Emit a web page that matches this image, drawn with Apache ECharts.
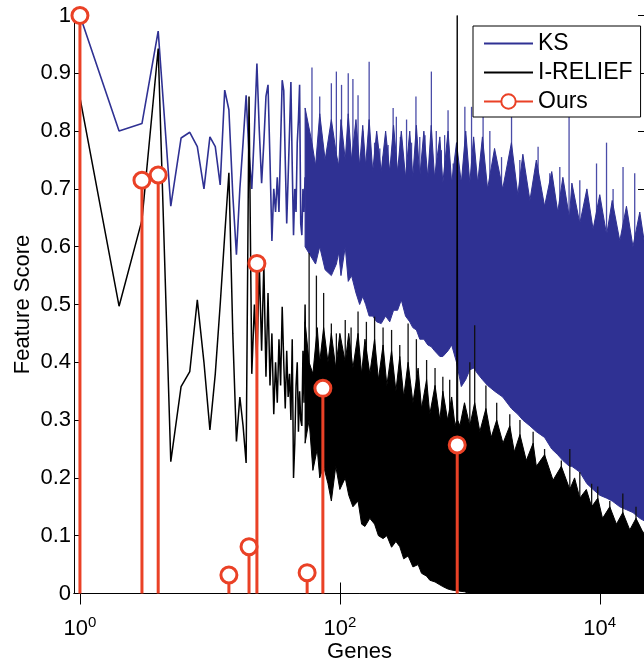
<!DOCTYPE html>
<html><head><meta charset="utf-8">
<script src="https://cdn.jsdelivr.net/npm/echarts@6/dist/echarts.min.js"></script>
<style>html,body{margin:0;padding:0;background:#fff}#c{width:644px;height:667px}</style>
</head><body><div id="c"></div>
<script>
// ---- data ----
// KS scores of the first 54 ranked genes (gene = position + 1)
const ksLeadScores = [1.0,0.80,0.813,0.973,0.67,0.788,0.798,0.773,0.70,0.79,
  0.773,0.707,0.871,0.837,0.69,0.586,0.70,0.78,0.862,0.76,
  0.70,0.80,0.917,0.80,0.71,0.78,0.86,0.88,0.75,0.61,
  0.70,0.66,0.72,0.66,0.78,0.888,0.87,0.75,0.64,0.72,
  0.80,0.885,0.74,0.62,0.70,0.66,0.78,0.82,0.88,0.64,
  0.62,0.70,0.66,0.72];
// I-RELIEF scores of the first 55 ranked genes
const irLeadScores = [0.858,0.497,0.646,0.943,0.228,0.358,0.384,0.508,0.40,0.283,
  0.38,0.50,0.62,0.728,0.45,0.263,0.34,0.29,0.226,0.86,
  0.38,0.50,0.40,0.57,0.42,0.57,0.375,0.52,0.36,0.45,
  0.31,0.40,0.33,0.44,0.36,0.496,0.40,0.32,0.42,0.34,
  0.38,0.30,0.44,0.20,0.26,0.36,0.40,0.28,0.35,0.30,
  0.29,0.42,0.33,0.50,0.30];
// dense part of KS: envelope (low / high) read at these genes
const ksBandGenes = [54,61,65,70,77,86,94,98,102,110,
  116,123,133,142,150,158,168,179,192,208,
  225,242,259,278,297,320,345,364,388,412,
  443,475,505,535,588,620,680,725,790,860,
  930,1000,1070,1150,1250,1370,1550,1790,2090,2340,
  2560,2900,3250,3760,4270,4750,5200,5840,6100,7020,
  7960,8880,10000,11290,12460,14260,16040,18000,20320,22283];
const ksBandLow = [0.60,0.58,0.57,0.60,0.56,0.55,0.57,0.59,0.55,0.60,
  0.54,0.55,0.52,0.50,0.514,0.50,0.48,0.48,0.47,0.467,
  0.48,0.47,0.49,0.49,0.508,0.48,0.47,0.46,0.456,0.44,
  0.44,0.43,0.427,0.42,0.41,0.41,0.42,0.43,0.40,0.358,
  0.37,0.387,0.39,0.38,0.37,0.36,0.35,0.34,0.32,0.31,
  0.30,0.29,0.28,0.27,0.25,0.24,0.23,0.22,0.22,0.21,
  0.19,0.18,0.17,0.165,0.16,0.15,0.145,0.14,0.13,0.125];
const ksBandHigh = [0.84,0.78,0.74,0.83,0.75,0.82,0.76,0.74,0.82,0.75,
  0.83,0.75,0.82,0.74,0.81,0.74,0.82,0.73,0.80,0.73,
  0.80,0.73,0.81,0.73,0.80,0.72,0.80,0.72,0.81,0.72,
  0.80,0.72,0.81,0.72,0.79,0.71,0.80,0.71,0.78,0.71,
  0.80,0.71,0.79,0.71,0.79,0.70,0.77,0.70,0.78,0.69,
  0.76,0.68,0.75,0.67,0.73,0.66,0.72,0.65,0.71,0.64,
  0.70,0.63,0.69,0.62,0.68,0.61,0.67,0.60,0.66,0.60];
// thin KS spikes above the dense part: gene and top value
const ksSpikeGenes = [61,70,86,94,103,116,126,138,150,168,
  185,203,215,235,257,272,292,326,356,385,
  412,452,492,506,552,604,640,680,745,916,
  1031,1265,1426,1754,2094,2426,3352,4125,4925,5804,
  7020,9440,11270,12660,15100,18570];
const ksSpikeTops = [0.91,0.86,0.883,0.903,0.88,0.90,0.89,0.862,0.80,0.92,
  0.78,0.77,0.756,0.776,0.84,0.825,0.79,0.82,0.78,0.86,
  0.79,0.793,0.76,0.903,0.80,0.767,0.793,0.836,0.744,0.842,
  0.842,0.828,0.80,0.755,0.836,0.75,0.773,0.727,0.738,0.836,
  0.715,0.744,0.78,0.70,0.738,0.727];
// dense part of I-RELIEF: envelope (low / high) read at these genes
const irBandGenes = [54,58,62,67,70,75,81,86,93,100,
  110,117,126,138,147,156,170,185,198,215,
  230,250,270,289,310,335,365,400,425,465,
  492,540,588,620,675,725,770,792,800,808,
  838,910,1000,1090,1194,1330,1460,1610,1800,2030,
  2200,2430,2720,3070,3250,3760,4370,5060,5880,6400,
  7020,7880,8660,9650,10500,11940,13430,15040,17020,19000,
  21700,22283];
const irBandLow = [0.26,0.30,0.213,0.25,0.20,0.22,0.19,0.16,0.22,0.18,
  0.20,0.17,0.15,0.16,0.12,0.116,0.13,0.12,0.10,0.095,
  0.10,0.08,0.09,0.081,0.06,0.065,0.046,0.05,0.035,0.03,
  0.023,0.02,0.015,0.012,0.008,0.006,0.005,0.005,0.005,0.005,
  0.004,0.003,0,0,0,0,0,0,0,0,
  0,0,0,0,0,0,0,0,0,0,
  0,0,0,0,0,0,0,0,0,0,
  0,0];
const irBandHigh = [0.47,0.40,0.38,0.46,0.40,0.46,0.40,0.45,0.39,0.45,
  0.40,0.45,0.39,0.45,0.38,0.44,0.38,0.44,0.37,0.43,
  0.36,0.42,0.35,0.41,0.34,0.40,0.33,0.39,0.32,0.37,
  0.31,0.36,0.30,0.35,0.30,0.34,0.29,0.30,1.0,0.30,
  0.29,0.33,0.29,0.33,0.28,0.32,0.27,0.30,0.26,0.29,
  0.245,0.275,0.23,0.26,0.22,0.24,0.196,0.22,0.18,0.20,
  0.165,0.18,0.15,0.165,0.13,0.15,0.12,0.14,0.11,0.13,
  0.104,0.11];
// thin I-RELIEF spikes above the dense part: gene and top value
const irSpikeGenes = [58,66,75,86,94,110,122,138,160,185,215,250,289,335,388,465,540,620,700,
  1000,1090,1330,1610,2030,2430,3070,3760,5060,5880,7020,8660,9650,11940,15040,19000];
const irSpikeTops = [0.589,0.55,0.52,0.467,0.45,0.473,0.46,0.488,0.47,0.479,0.46,0.456,0.43,0.467,0.44,0.404,0.39,0.375,0.37,
  0.40,0.464,0.36,0.33,0.31,0.30,0.28,0.25,0.23,0.25,0.21,0.19,0.185,0.16,0.173,0.15];
// "Ours" selected genes and their scores
const ourGenes = [1,3,4,14,20,23,56,74,800];
const ourScores = [1.0,0.715,0.724,0.032,0.081,0.571,0.036,0.355,0.257];
// axis ticks
const xTickValues = [1,100,10000];
const legendNames = ['KS','I-RELIEF','Ours'];

// ---- styles ----
const BLUE = '#2F3193', BLUE_SPIKE = '#4A4CA8', BLACK = '#000000', BLACK_SPIKE = '#111111', RED = '#EA4126';
const FONT = '"Liberation Sans", Arial, Helvetica, sans-serif';

const lead = arr => arr.map((v, i) => [i + 1, v]);
const pairs = (g, v) => g.map((x, i) => [x, v[i]]);

// band (filled envelope) drawn through the library's coordinate system
function bandRenderer(genes, lo, hi, color) {
  return function (params, api) {
    const pts = [];
    for (let i = 0; i < genes.length; i++) pts.push(api.coord([genes[i], hi[i]]));
    for (let i = genes.length - 1; i >= 0; i--) pts.push(api.coord([genes[i], lo[i]]));
    return { type: 'polygon', shape: { points: pts }, silent: true,
      style: { fill: color, stroke: color, lineWidth: 1 } };
  };
}
// a spike rises from inside the dense band (nearest band samples) to its own value
function spikeRenderer(genes, hi, color) {
  return function (params, api) {
    const g = api.value(0), top = api.value(1);
    let i = 0;
    while (i < genes.length - 1 && genes[i + 1] <= g) i++;
    const foot = Math.min(hi[i], hi[Math.min(i + 1, hi.length - 1)]) - 0.02;
    const p0 = api.coord([g, foot]), p1 = api.coord([g, top]);
    return { type: 'line', shape: { x1: p0[0], y1: p0[1], x2: p1[0], y2: p1[1] }, silent: true,
      style: { stroke: color, lineWidth: 1.3 } };
  };
}

const stemData = [];
ourGenes.forEach((g, i) => {
  stemData.push({ value: [g, 0], symbol: 'none' });
  stemData.push({ value: [g, ourScores[i]] });
  stemData.push([g, '-']);
});

const hiddenSym = { color: 'rgba(0,0,0,0)', borderWidth: 0, opacity: 0 };

const chart = echarts.init(document.getElementById('c'), null, { renderer: 'canvas' });
chart.setOption({
  animation: false,
  backgroundColor: '#fff',
  grid: { left: 74, right: -1, top: 15.5, bottom: 73.5, containLabel: false, outerBoundsMode: 'none' },
  legend: {
    orient: 'vertical', left: 473, top: 26,
    padding: [6, 8, 4, 10], itemGap: 6, itemWidth: 49, itemHeight: 18,
    backgroundColor: '#fff', borderColor: '#000', borderWidth: 1, borderRadius: 0,
    textStyle: { fontSize: 23, fontFamily: FONT, color: '#000', lineHeight: 22 },
    selectedMode: false,
    data: [
      { name: legendNames[0], itemStyle: hiddenSym },
      { name: legendNames[1], itemStyle: hiddenSym },
      { name: legendNames[2] }
    ]
  },
  xAxis: [{
    type: 'log', logBase: 10, min: 0.9, max: 22283, position: 'bottom',
    axisLine: { show: true, lineStyle: { color: '#000', width: 1 } },
    axisTick: { show: true, inside: true, length: 11, customValues: xTickValues, lineStyle: { color: '#000' } },
    axisLabel: {
      customValues: xTickValues, margin: 22,
      formatter: v => '{b|10}{s|' + Math.round(Math.log10(v)) + '}',
      rich: {
        b: { fontSize: 22, fontFamily: FONT, color: '#000' },
        s: { fontSize: 15, fontFamily: FONT, color: '#000', padding: [0, 0, 12, 0] }
      }
    },
    splitLine: { show: false }, minorTick: { show: false },
    name: 'Genes', nameLocation: 'middle', nameGap: 47, nameMoveOverlap: false,
    nameTextStyle: { fontSize: 22, fontFamily: FONT, color: '#000' }
  }, {
    type: 'log', logBase: 10, min: 0.9, max: 22283, position: 'top',
    axisLine: { show: true, lineStyle: { color: '#000', width: 1 } },
    axisTick: { show: true, inside: true, length: 11, customValues: xTickValues, lineStyle: { color: '#000' } },
    axisLabel: { show: false }, splitLine: { show: false }
  }],
  yAxis: [{
    type: 'value', min: 0, max: 1, interval: 0.1,
    axisLine: { show: true, lineStyle: { color: '#000', width: 1 } },
    axisTick: { show: true, inside: true, length: 7, lineStyle: { color: '#000' } },
    axisLabel: {
      margin: 3, fontSize: 22, fontFamily: FONT, color: '#000',
      formatter: v => (v === 0 ? '0' : v === 1 ? '1' : v.toFixed(1))
    },
    splitLine: { show: false },
    name: 'Feature Score', nameLocation: 'middle', nameGap: 40, nameMoveOverlap: false,
    nameTextStyle: { fontSize: 22, fontFamily: FONT, color: '#000' }
  }, {
    type: 'value', min: 0, max: 1, interval: 0.1, position: 'right',
    axisLine: { show: true, lineStyle: { color: '#000', width: 1 } },
    axisTick: { show: true, inside: true, length: 7, lineStyle: { color: '#000' } },
    axisLabel: { show: false }, splitLine: { show: false }
  }],
  series: [
    { name: 'KS', type: 'line', data: lead(ksLeadScores), symbol: 'none',
      lineStyle: { color: BLUE, width: 1.6 }, itemStyle: { color: BLUE }, z: 2 },
    { name: 'KS spikes', type: 'custom', data: pairs(ksSpikeGenes, ksSpikeTops),
      renderItem: spikeRenderer(ksBandGenes, ksBandHigh, BLUE_SPIKE), silent: true, z: 2 },
    { name: 'KS band', type: 'custom', data: [[ksBandGenes[0], ksBandHigh[0]]],
      renderItem: bandRenderer(ksBandGenes, ksBandLow, ksBandHigh, BLUE), silent: true, z: 2 },
    { name: 'I-RELIEF', type: 'line', data: lead(irLeadScores), symbol: 'none',
      lineStyle: { color: BLACK, width: 1.5 }, itemStyle: { color: BLACK }, z: 2 },
    { name: 'I-RELIEF spikes', type: 'custom', data: pairs(irSpikeGenes, irSpikeTops),
      renderItem: spikeRenderer(irBandGenes, irBandHigh, BLACK_SPIKE), silent: true, z: 2 },
    { name: 'I-RELIEF band', type: 'custom', data: [[irBandGenes[0], irBandHigh[0]]],
      renderItem: bandRenderer(irBandGenes, irBandLow, irBandHigh, BLACK), silent: true, z: 2 },
    { name: 'Ours', type: 'line', data: stemData, connectNulls: false,
      symbol: 'circle', symbolSize: 16,
      itemStyle: { color: '#fff', borderColor: RED, borderWidth: 3 },
      lineStyle: { color: RED, width: 3 }, z: 3 }
  ]
});
</script></body></html>
